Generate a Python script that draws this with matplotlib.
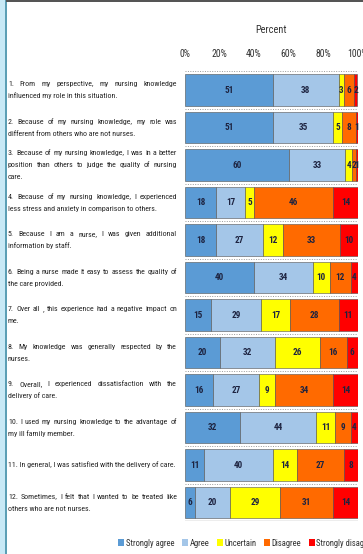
import matplotlib
matplotlib.use("Agg")
import matplotlib.pyplot as plt
from matplotlib.patches import Rectangle, Patch
from matplotlib import font_manager
import numpy as np

_names = {f.name for f in font_manager.fontManager.ttflist}
_fam = [f for f in ['Liberation Sans Narrow', 'Roboto Condensed', 'Open Sans Condensed', 'Liberation Sans'] if f in _names]
plt.rcParams['font.family'] = _fam + ['DejaVu Sans']

# ---------------- data ----------------
statements = [
    ["1. From my perspective, my nursing knowledge", "influenced my role in this situation."],
    ["2. Because of my nursing knowledge, my role was", "different from others who are not nurses."],
    ["3. Because of my nursing knowledge, I was in a better", "position than others to judge the quality of nursing", "care."],
    ["4. Because of my nursing knowledge, I experienced", "less stress and anxiety in comparison to others."],
    ["5. Because I am a nurse, I was given additional", "information by staff."],
    ["6. Being a nurse made it easy to assess the quality of", "the care provided."],
    ["7. Over all , this experience had a negative impact on", "me."],
    ["8. My knowledge was generally respected by the", "nurses."],
    ["9. Overall, I experienced dissatisfaction with the", "delivery of care."],
    ["10. I used my nursing knowledge to the advantage of", "my ill family member."],
    ["11. In general, I was satisfied with the delivery of care."],
    ["12. Sometimes, I felt that I wanted to be treated like", "others who are not nurses."],
]
series_names = ["Strongly agree", "Agree", "Uncertain", "Disagree", "Strongly disagree"]
strongly_agree    = [51, 51, 60, 18, 18, 40, 15, 20, 16, 32, 11, 6]
agree             = [38, 35, 33, 17, 27, 34, 29, 32, 27, 44, 40, 20]
uncertain         = [3, 5, 4, 5, 12, 10, 17, 26, 9, 11, 14, 29]
disagree          = [6, 8, 2, 46, 33, 12, 28, 16, 34, 9, 27, 31]
strongly_disagree = [2, 1, 1, 14, 10, 4, 11, 6, 14, 4, 8, 14]
x_ticks = [0, 20, 40, 60, 80, 100]
x_ticklabels = ["0%", "20%", "40%", "60%", "80%", "100%"]

colors = ["#5B9BD5", "#A4C6E8", "#FFFF00", "#FF6A00", "#FF0000"]

W, H = 363, 554
fig = plt.figure(figsize=(W / 100, H / 100), dpi=100)
fig.patch.set_facecolor("white")

ax_left, ax_right = 185, 357.5
ax_top, ax_bot = 71.25, 521.25
ax = fig.add_axes([ax_left / W, 1 - ax_bot / H, (ax_right - ax_left) / W, (ax_bot - ax_top) / H])

n = len(statements)
y = np.arange(n)
series = [strongly_agree, agree, uncertain, disagree, strongly_disagree]
left = np.zeros(n)
for vals, c, name in zip(series, colors, series_names):
    vals = np.array(vals, dtype=float)
    ax.barh(y, vals, left=left, height=0.83, color=c, edgecolor="#505050", linewidth=0.4, label=name)
    for yi, l, v in zip(y, left, vals):
        ax.text(l + v / 2, yi, f"{int(v)}", ha="center", va="center", fontsize=6.6,
                fontweight="bold", color="#1d2340")
    left += vals

ax.set_xlim(0, 100)
ax.set_ylim(n - 0.5, -0.5)
ax.set_yticks([])
for b in np.arange(-0.5, n, 1.0):
    ax.axhline(b, color="#9a9a9a", linestyle=(0, (1, 1.5)), linewidth=0.7, zorder=0)
for s in ["left", "right", "top", "bottom"]:
    ax.spines[s].set_visible(False)
ax.axhline(n - 0.5, color="#707070", linewidth=0.9, zorder=3)

ax.xaxis.tick_top()
ax.set_xticks(x_ticks)
ax.set_xticklabels(x_ticklabels, fontsize=7, color="#333333")
ax.tick_params(axis="x", length=0, pad=9)
ax.xaxis.set_label_position("top")
ax.set_xlabel("Percent", fontsize=7.5, color="#333333", labelpad=11)

# left frame decorations
fig.add_artist(Rectangle((0, 0), 5 / W, 1, transform=fig.transFigure, facecolor="#C8E9F6", edgecolor="none"))
fig.add_artist(Rectangle((5 / W, 0), 2 / W, 1, transform=fig.transFigure, facecolor="#5C9FB5", edgecolor="none"))
fig.add_artist(Rectangle((6 / W, 1 - 1.5 / H), 1, 1.5 / H, transform=fig.transFigure, facecolor="#555555", edgecolor="none"))

# justified statement text
fig.canvas.draw()
r = fig.canvas.get_renderer()
tx0, tx1 = 8.0, 177.0
line_h = 12.0
fs = 6.3

def width(s):
    t = fig.text(0, 0, s, fontsize=fs)
    w = t.get_window_extent(r).width
    t.remove()
    return w

maxw = max(width(l) for st in statements for l in st)
fs = fs * min(1.0, (tx1 - tx0) / maxw * 0.99)

bar_centers = [ax.transData.transform((0, yi))[1] for yi in y]
for st, yc in zip(statements, bar_centers):
    nl = len(st)
    for k, line in enumerate(st):
        ly = yc + ((nl - 1) / 2 - k) * line_h
        words = line.split(" ")
        if k == nl - 1 or len(words) == 1:
            fig.text(tx0 / W, ly / H, line, fontsize=fs, color="#262626", va="center", ha="left")
        else:
            ws = [width(w) for w in words]
            gap = (tx1 - tx0 - sum(ws)) / (len(words) - 1)
            x = tx0
            for w, ww in zip(words, ws):
                if w:
                    fig.text(x / W, ly / H, w, fontsize=fs, color="#262626", va="center", ha="left")
                x += ww + gap

handles = [Patch(facecolor=c, edgecolor="none") for c in colors]
fig.legend(handles, series_names, loc="center left", bbox_to_anchor=(115 / W, 1 - 543 / H),
           ncol=5, frameon=False, fontsize=6.2, handlelength=0.7, handleheight=0.8,
           handletextpad=0.2, columnspacing=0.85, labelcolor="#333333", borderaxespad=0)

fig.savefig("out.png", dpi=100, facecolor="white")
